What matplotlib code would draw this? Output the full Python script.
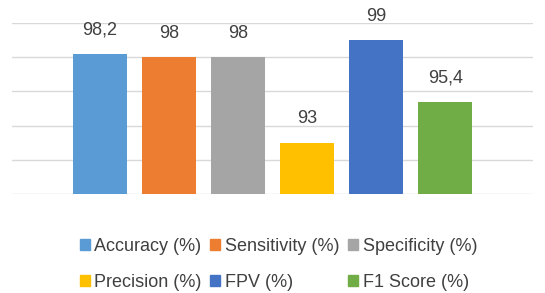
import matplotlib.pyplot as plt
from matplotlib.patches import Patch

plt.rcParams["font.family"] = ["Liberation Sans", "DejaVu Sans"]

metrics = ["Accuracy (%)", "Sensitivity (%)", "Specificity (%)",
           "Precision (%)", "FPV (%)", "F1 Score (%)"]
values = [98.2, 98, 98, 93, 99, 95.4]
labels = ["98,2", "98", "98", "93", "99", "95,4"]
colors = ["#5B9BD5", "#ED7D31", "#A5A5A5", "#FFC000", "#4472C4", "#70AD47"]

fig = plt.figure(figsize=(5.45, 2.93), dpi=100)
ax = fig.add_axes([0.022, 0.338, 0.956, 0.5835])

x = list(range(len(values)))
ax.bar(x, values, width=0.78, color=colors, zorder=3)
for xi, v, lab in zip(x, values, labels):
    ax.annotate(lab, (xi, v), xytext=(0, 11), textcoords="offset points",
                ha="center", va="bottom", fontsize=13, color="#404040")

ax.set_ylim(90, 100)
ax.set_xlim(-1.265, 6.265)
ax.set_yticks(range(90, 101, 2))
ax.yaxis.grid(True, color="#D9D9D9", linewidth=1)
ax.tick_params(left=False, bottom=False, labelleft=False, labelbottom=False)
for s in ax.spines.values():
    s.set_visible(False)

# reorder so rows read left-to-right like the original
order = [0, 3, 1, 4, 2, 5]
handles = [Patch(color=colors[i], label=metrics[i]) for i in order]
fig.legend(handles=handles, ncol=3, loc="center", bbox_to_anchor=(0.511, 0.098),
           frameon=False, fontsize=13, handlelength=0.55, handleheight=0.55,
           handletextpad=0.25, columnspacing=0.5, labelspacing=1.05,
           labelcolor="#404040")

fig.savefig("out.png", dpi=100)
